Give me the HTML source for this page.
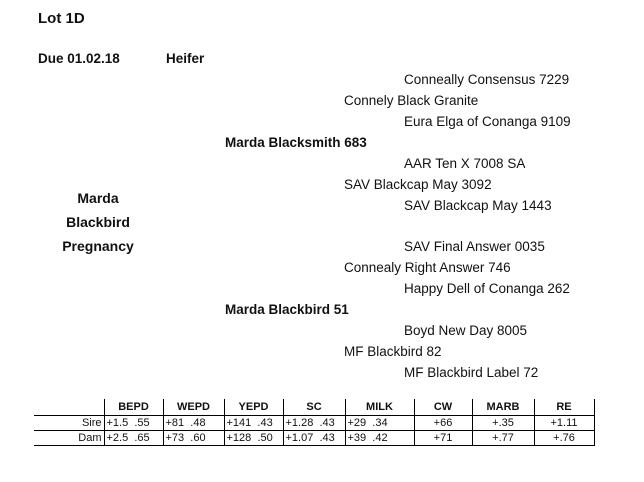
<!DOCTYPE html>
<html><head><style>
body{margin:0;width:644px;height:482px;background:#fff;position:relative;font-family:"Liberation Sans",sans-serif;color:#111;overflow:hidden}
.t{position:absolute;font-size:13.5px;white-space:nowrap;line-height:16px}
.b{font-weight:bold}
table{position:absolute;left:34px;top:399px;border-collapse:collapse;font-size:11px}
td{border:1px solid #000;height:14px;padding:0 2px;white-space:nowrap}
tr:first-child td{border-top:none;font-weight:bold;text-align:center;height:16px}
tr:first-child td:first-child{border:none;border-right:1px solid #000;border-bottom:1px solid #000}
td.l{text-align:right;border-left:none}
td.c{text-align:center}
</style></head><body>
<div class="t b" style="left:38px;top:11px;font-size:15px">Lot 1D</div>
<div class="t b" style="left:38px;top:51px">Due 01.02.18</div>
<div class="t b" style="left:166px;top:51px">Heifer</div>
<div class="t" style="left:404px;top:72px">Conneally Consensus 7229</div>
<div class="t" style="left:344px;top:93px">Connely Black Granite</div>
<div class="t" style="left:404px;top:114px">Eura Elga of Conanga 9109</div>
<div class="t b" style="left:225px;top:135px">Marda Blacksmith 683</div>
<div class="t" style="left:404px;top:156px">AAR Ten X 7008 SA</div>
<div class="t" style="left:344px;top:177px">SAV Blackcap May 3092</div>
<div class="t" style="left:404px;top:198px">SAV Blackcap May 1443</div>
<div class="t b" style="left:38px;top:186px;width:120px;text-align:center;font-size:14px;line-height:24px">Marda<br>Blackbird<br>Pregnancy</div>
<div class="t" style="left:404px;top:239px">SAV Final Answer 0035</div>
<div class="t" style="left:344px;top:260px">Connealy Right Answer 746</div>
<div class="t" style="left:404px;top:281px">Happy Dell of Conanga 262</div>
<div class="t b" style="left:225px;top:302px">Marda Blackbird 51</div>
<div class="t" style="left:404px;top:323px">Boyd New Day 8005</div>
<div class="t" style="left:344px;top:344px">MF Blackbird 82</div>
<div class="t" style="left:404px;top:365px">MF Blackbird Label 72</div>
<table>
<colgroup><col style="width:70px"><col style="width:59px"><col style="width:61px"><col style="width:59px"><col style="width:62px"><col style="width:69px"><col style="width:58px"><col style="width:62px"><col style="width:60px"></colgroup>
<tr><td></td><td>BEPD</td><td>WEPD</td><td>YEPD</td><td>SC</td><td>MILK</td><td>CW</td><td>MARB</td><td>RE</td></tr>
<tr><td class="l">Sire</td><td>+1.5&nbsp; .55</td><td>+81&nbsp; .48</td><td>+141&nbsp; .43</td><td>+1.28&nbsp; .43</td><td>+29&nbsp; .34</td><td class="c">+66</td><td class="c">+.35</td><td class="c">+1.11</td></tr>
<tr><td class="l">Dam</td><td>+2.5&nbsp; .65</td><td>+73&nbsp; .60</td><td>+128&nbsp; .50</td><td>+1.07&nbsp; .43</td><td>+39&nbsp; .42</td><td class="c">+71</td><td class="c">+.77</td><td class="c">+.76</td></tr>
</table>
</body></html>
